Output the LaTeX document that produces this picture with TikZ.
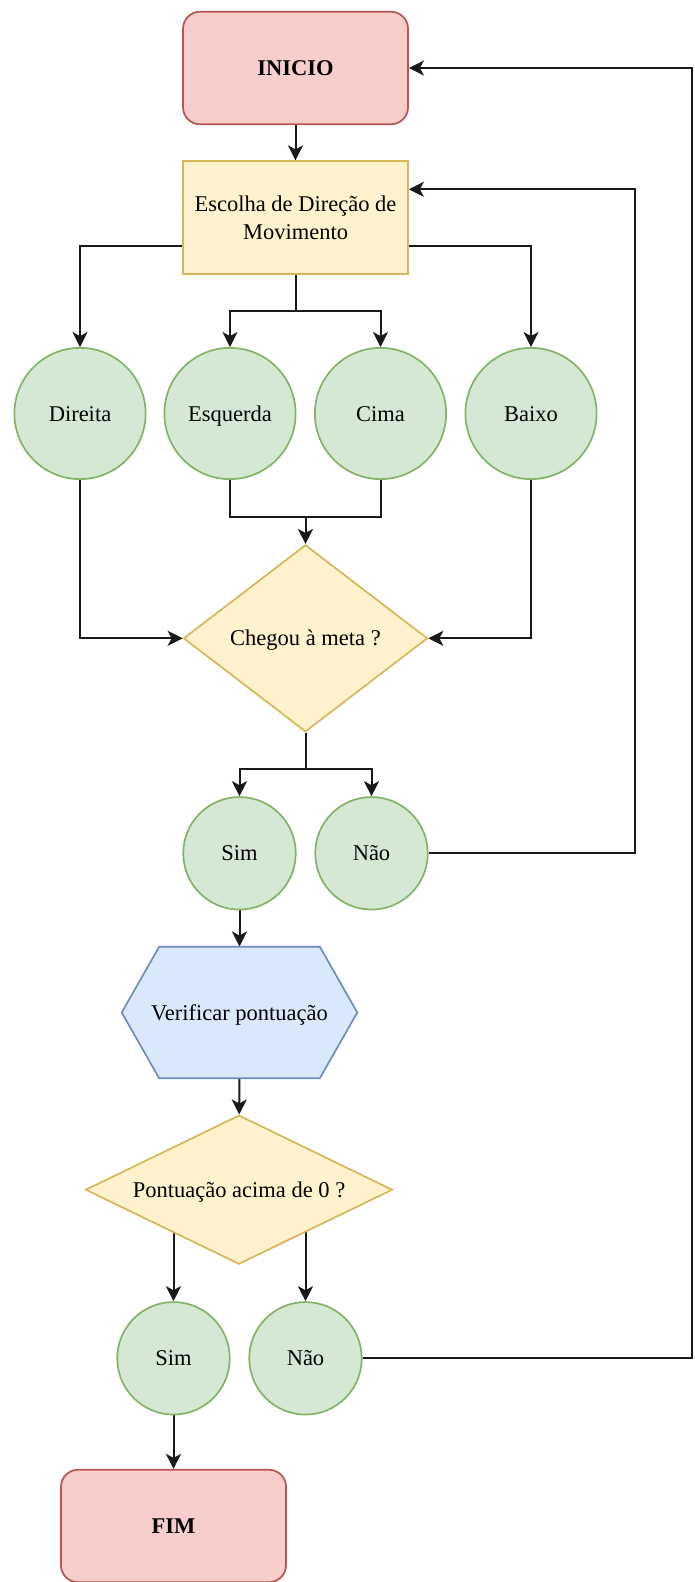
\documentclass[tikz,border=0pt]{standalone}
\usepackage{fontspec}
\setmainfont{Liberation Serif}
\usetikzlibrary{shapes.geometric,arrows.meta,calc}
\definecolor{redF}{HTML}{F8CECC}\definecolor{redD}{HTML}{B85450}
\definecolor{yelF}{HTML}{FFF2CC}\definecolor{yelD}{HTML}{D6B656}
\definecolor{grnF}{HTML}{D5E8D4}\definecolor{grnD}{HTML}{82B366}
\definecolor{bluF}{HTML}{DAE8FC}\definecolor{bluD}{HTML}{6C8EBF}
\pgfdeclarelayer{background}\pgfdeclarelayer{canvas}\pgfsetlayers{canvas,background,main}
\begin{document}
\begin{tikzpicture}[x=1pt,y=-1pt,
  txt/.style={font=\fontsize{22.5}{28}\selectfont, inner sep=0pt},
  one/.style={txt, text height=15pt, text depth=0pt},
  term/.style={one, font=\fontsize{22.5}{28}\selectfont\bfseries, rectangle, rounded corners=17pt, draw=redD, fill=redF, line width=1.7pt, minimum width=225pt, minimum height=112.5pt},
  proc/.style={txt, rectangle, align=center, draw=yelD, fill=yelF, line width=1.7pt, minimum width=225pt, minimum height=112.5pt},
  circ/.style={one, circle, draw=grnD, fill=grnF, line width=1.7pt, minimum size=131.25pt},
  circs/.style={circ, minimum size=112.5pt},
  dia/.style={one, diamond, draw=yelD, fill=yelF, line width=1.7pt},
  hexlabel/.style={one, minimum width=235.6pt, minimum height=131.6pt},
  ln/.style={line width=2pt, black!90},
  arr/.style={ln, -{Stealth[length=15pt,width=15pt,inset=4pt]}}
]
\begin{pgfonlayer}{canvas}
\fill[white] (0,0) rectangle (695,1582);
\end{pgfonlayer}
\useasboundingbox (0,0) rectangle (695,1582);

\node[term] (ini) at (295.5,68) {INICIO};
\node[proc] (esc) at (295.5,217.5) {Escolha de Direção de\\Movimento};
\node[circ] (dir) at (80,413.5) {Direita};
\node[circ] (esq) at (230,413.5) {Esquerda};
\node[circ] (cim) at (380.5,413.5) {Cima};
\node[circ] (bai) at (531,413.5) {Baixo};
\node[dia, minimum width=244pt, minimum height=187pt, aspect=1.3] (d1) at (305.5,638.3) {Chegou à meta ?};
\node[circs] (sim1) at (239.5,853.3) {Sim};
\node[circs] (nao1) at (371.5,853.3) {Não};
\filldraw[draw=bluD, fill=bluF, line width=1.7pt] (121.7,1012.5) -- (159.2,946.7) -- (319.8,946.7) -- (357.3,1012.5) -- (319.8,1078.3) -- (159.2,1078.3) -- cycle;
\node[hexlabel] (hex) at (239.5,1012.5) {Verificar pontuação};
\node[dia, minimum width=307pt, minimum height=149pt, aspect=2.06] (d2) at (239,1189.7) {Pontuação acima de 0 ?};
\node[circs] (sim2) at (173.5,1358.3) {Sim};
\node[circs] (nao2) at (305.5,1358.3) {Não};
\node[term] (fim) at (173.5,1526) {FIM};

\coordinate (b1) at (295.5,310.7);
\coordinate (m1) at (305.5,516.7);
\coordinate (b2) at (305.5,769);
\coordinate (r1) at (634.8,500);
\coordinate (r2) at (691.8,700);

\begin{pgfonlayer}{background}
\draw[arr] (ini) -- (esc);
\draw[arr] ([yshift=-28.1pt]esc.west) -| (dir.north);
\draw[arr] ([yshift=-28.1pt]esc.east) -| (bai.north);
\draw[ln] (esc.south) -- (b1);
\draw[arr] (b1) -| (esq.north);
\draw[arr] (b1) -| (cim.north);
\draw[ln] (esq.south) |- (m1) -| (cim.south);
\draw[arr] (m1) -- (d1.north);
\draw[arr] (dir.south) |- (d1.west);
\draw[arr] (bai.south) |- (d1.east);
\draw[ln] (d1.south) -- (b2);
\draw[arr] (b2) -| (sim1.north);
\draw[arr] (b2) -| (nao1.north);
\draw[arr] (nao1.east) -| (r1) |- ([yshift=28.2pt]esc.east);
\draw[arr] (sim1) -- (hex);
\draw[arr] (hex) -- (d2);
\draw[arr] (d2.center -| sim2.north) -- (sim2.north);
\draw[arr] (d2.center -| nao2.north) -- (nao2.north);
\draw[arr] (sim2) -- (fim);
\draw[arr] (nao2.east) -| (r2) |- (ini.east);
\end{pgfonlayer}
\end{tikzpicture}
\end{document}
